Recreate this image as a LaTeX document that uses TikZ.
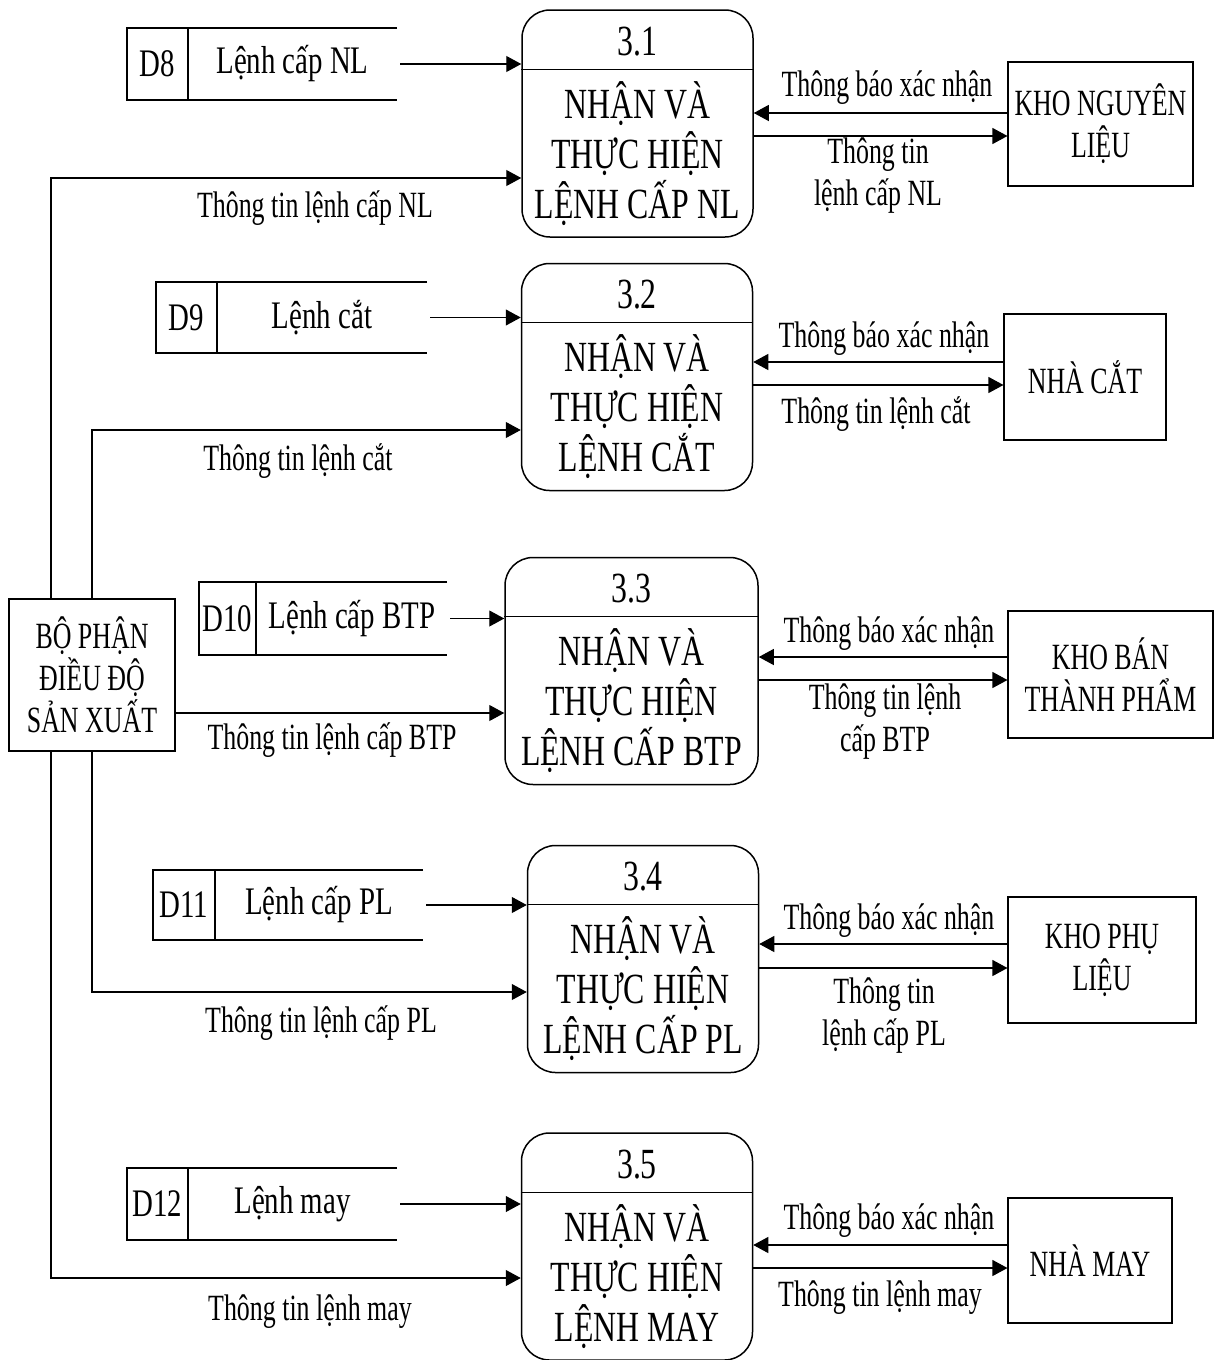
\documentclass[tikz,border=0pt]{standalone}
\usepackage{fontspec}
\setmainfont[FakeStretch=0.74]{Liberation Serif}
\newfontfamily\labfam[FakeStretch=0.70]{Liberation Serif}
\usetikzlibrary{arrows.meta}

\newcommand\procfont{\fontsize{43}{50}\selectfont}
\newcommand\storefont{\fontsize{39}{44}\selectfont}
\newcommand\labfont{\labfam\fontsize{37}{42}\selectfont}

\begin{document}
\begin{tikzpicture}[x=1pt, y=-1pt,
  proc/.style={draw, line width=1.5pt, rounded corners=28pt, minimum width=231pt, minimum height=227pt, inner sep=0pt},
  ent/.style={draw, line width=1.1pt, align=center, font=\labfont, inner sep=0pt},
  store/.style={line width=1.6pt},
  lab/.style={font=\labfont, align=center, inner sep=0pt},
  slab/.style={font=\storefont, inner sep=0pt},
  flow/.style={line width=1.1pt, -{Triangle[length=15pt, width=16pt]}}]

  \useasboundingbox (0,0) rectangle (1213,1360);

  % Processes
  \node[proc] (p1) at (637.5,123.5) {};
  \node[proc] (p2) at (637,377) {};
  \node[proc, minimum width=253pt] (p3) at (631.5,671) {};
  \node[proc] (p4) at (643,959) {};
  \node[proc] (p5) at (637,1246.5) {};

  \draw[line width=1.2pt] ([yshift=-60pt]p1.north west) -- ([yshift=-60pt]p1.north east);
  \draw[line width=1.2pt] ([yshift=-60pt]p2.north west) -- ([yshift=-60pt]p2.north east);
  \draw[line width=1.2pt] ([yshift=-60pt]p3.north west) -- ([yshift=-60pt]p3.north east);
  \draw[line width=1.2pt] ([yshift=-60pt]p4.north west) -- ([yshift=-60pt]p4.north east);
  \draw[line width=1.2pt] ([yshift=-60pt]p5.north west) -- ([yshift=-60pt]p5.north east);

  \node[font=\procfont] (n1) at ([yshift=-32pt]p1.north) {3.1};
  \node[font=\procfont] (n2) at ([yshift=-32pt]p2.north) {3.2};
  \node[font=\procfont] (n3) at ([yshift=-32pt]p3.north) {3.3};
  \node[font=\procfont] (n4) at ([yshift=-32pt]p4.north) {3.4};
  \node[font=\procfont] (n5) at ([yshift=-32pt]p5.north) {3.5};

  \node[font=\procfont, align=center] (t1) at ([yshift=-30pt]p1.center) {NHẬN VÀ\\THỰC HIỆN\\LỆNH CẤP NL};
  \node[font=\procfont, align=center] (t2) at ([yshift=-30pt]p2.center) {NHẬN VÀ\\THỰC HIỆN\\LỆNH CẮT};
  \node[font=\procfont, align=center] (t3) at ([yshift=-30pt]p3.center) {NHẬN VÀ\\THỰC HIỆN\\LỆNH CẤP BTP};
  \node[font=\procfont, align=center] (t4) at ([yshift=-30pt]p4.center) {NHẬN VÀ\\THỰC HIỆN\\LỆNH CẤP PL};
  \node[font=\procfont, align=center] (t5) at ([yshift=-30pt]p5.center) {NHẬN VÀ\\THỰC HIỆN\\LỆNH MAY};

  % Data stores
  \node[minimum width=270pt, minimum height=72pt] (s8) at (262,64) {};
  \node[minimum width=271pt, minimum height=71pt] (s9) at (291.5,317.5) {};
  \node[minimum width=248pt, minimum height=73pt] (s10) at (323,618.5) {};
  \node[minimum width=270pt, minimum height=70pt] (s11) at (288,905) {};
  \node[minimum width=270pt, minimum height=72pt] (s12) at (262,1204) {};

  \draw[store] (s8.north east) -- (s8.north west) -- (s8.south west) -- (s8.south east);
  \draw[store] (s9.north east) -- (s9.north west) -- (s9.south west) -- (s9.south east);
  \draw[store] (s10.north east) -- (s10.north west) -- (s10.south west) -- (s10.south east);
  \draw[store] (s11.north east) -- (s11.north west) -- (s11.south west) -- (s11.south east);
  \draw[store] (s12.north east) -- (s12.north west) -- (s12.south west) -- (s12.south east);

  \draw[store] (188,28) -- (188,100);
  \draw[store] (217,282) -- (217,353);
  \draw[store] (256,582) -- (256,655);
  \draw[store] (215,870) -- (215,940);
  \draw[store] (188,1168) -- (188,1240);

  \node[slab] (k8) at (157.5,64) {D8};
  \node[slab] (k9) at (186.5,318) {D9};
  \node[slab] (k10) at (227.5,619) {D10};
  \node[slab] (k11) at (184,905) {D11};
  \node[slab] (k12) at (157.5,1204) {D12};

  \node[slab] (l8) at (292.5,64) {Lệnh cấp NL};
  \node[slab] (l9) at (322,318) {Lệnh cắt};
  \node[slab] (l10) at (352,619) {Lệnh cấp BTP};
  \node[slab] (l11) at (319,905) {Lệnh cấp PL};
  \node[slab] (l12) at (292.5,1204) {Lệnh may};

  \draw[flow, shorten <=3pt] (s8.east) -- (s8.east -| p1.west);
  \draw[flow, shorten <=3pt] (s9.east) -- (s9.east -| p2.west);
  \draw[flow, shorten <=3pt] (s10.east) -- (s10.east -| p3.west);
  \draw[flow, shorten <=3pt] (s11.east) -- (s11.east -| p4.west);
  \draw[flow, shorten <=3pt] (s12.east) -- (s12.east -| p5.west);

  % External entities
  \node[ent, minimum width=166pt, minimum height=152pt] (bp) at (92,675) {BỘ PHẬN\\ĐIỀU ĐỘ\\SẢN XUẤT};
  \node[ent, minimum width=185pt, minimum height=124pt] (e1) at (1100.5,124) {KHO NGUYÊN\\LIỆU};
  \node[ent, minimum width=162pt, minimum height=126pt] (e2) at (1085,377) {NHÀ CẮT};
  \node[ent, minimum width=205pt, minimum height=127pt] (e3) at (1110.5,674.5) {KHO BÁN\\THÀNH PHẨM};
  \node[ent, minimum width=188pt, minimum height=126pt] (e4) at (1102,960) {KHO PHỤ\\LIỆU};
  \node[ent, minimum width=164pt, minimum height=125pt] (e5) at (1090,1260.5) {NHÀ MAY};

  % Flows from BO PHAN
  \coordinate (c1) at (51,178);
  \coordinate (c2) at (92,430);
  \coordinate (c3) at (175,713);
  \coordinate (c4) at (92,992);
  \coordinate (c5) at (51,1278);

  \draw[flow] (bp.north -| c1) |- (p1.west |- c1);
  \draw[flow] (bp.north -| c2) |- (p2.west |- c2);
  \draw[flow] (bp.east |- c3) -- (p3.west |- c3);
  \draw[flow] (bp.south -| c4) |- (p4.west |- c4);
  \draw[flow] (bp.south -| c5) |- (p5.west |- c5);

  \node[lab] (f1) at (315,208) {Thông tin lệnh cấp NL};
  \node[lab] (f2) at (298,461) {Thông tin lệnh cắt};
  \node[lab] (f3) at (332,740) {Thông tin lệnh cấp BTP};
  \node[lab] (f4) at (321,1023) {Thông tin lệnh cấp PL};
  \node[lab] (f5) at (310,1312) {Thông tin lệnh may};

  % Flows to and from entities
  \coordinate (a1) at (880,113);   \coordinate (b1) at (880,136);
  \coordinate (a2) at (880,362);   \coordinate (b2) at (880,385);
  \coordinate (a3) at (880,657);   \coordinate (b3) at (880,680);
  \coordinate (a4) at (880,944);   \coordinate (b4) at (880,968);
  \coordinate (a5) at (880,1245);  \coordinate (b5) at (880,1268);

  \draw[flow] (e1.west |- a1) -- (p1.east |- a1);
  \draw[flow] (p1.east |- b1) -- (e1.west |- b1);
  \draw[flow] (e2.west |- a2) -- (p2.east |- a2);
  \draw[flow] (p2.east |- b2) -- (e2.west |- b2);
  \draw[flow] (e3.west |- a3) -- (p3.east |- a3);
  \draw[flow] (p3.east |- b3) -- (e3.west |- b3);
  \draw[flow] (e4.west |- a4) -- (p4.east |- a4);
  \draw[flow] (p4.east |- b4) -- (e4.west |- b4);
  \draw[flow] (e5.west |- a5) -- (p5.east |- a5);
  \draw[flow] (p5.east |- b5) -- (e5.west |- b5);

  \node[lab] (x1) at (887,88) {Thông báo xác nhận};
  \node[lab] (x2) at (884,339) {Thông báo xác nhận};
  \node[lab] (x3) at (889,634) {Thông báo xác nhận};
  \node[lab] (x4) at (889,921) {Thông báo xác nhận};
  \node[lab] (x5) at (889,1221) {Thông báo xác nhận};

  \node[lab] (y1) at (878,176) {Thông tin\\lệnh cấp NL};
  \node[lab] (y2) at (876,414) {Thông tin lệnh cắt};
  \node[lab] (y3) at (885,722) {Thông tin lệnh\\cấp BTP};
  \node[lab] (y4) at (884,1016) {Thông tin\\lệnh cấp PL};
  \node[lab] (y5) at (880,1298) {Thông tin lệnh may};

\end{tikzpicture}
\end{document}
